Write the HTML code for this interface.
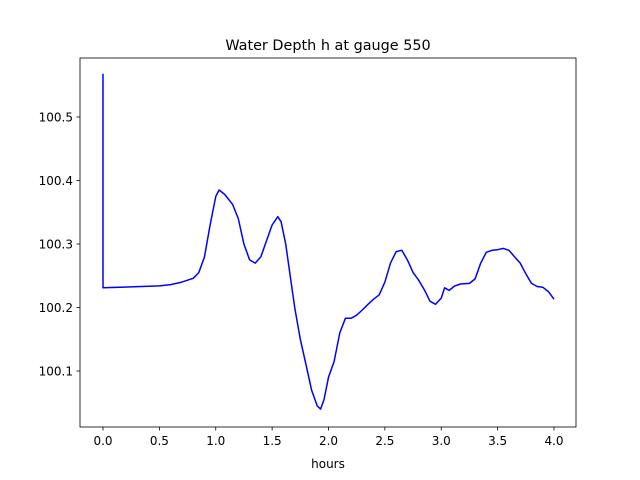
<!DOCTYPE html>
<html><head><meta charset="utf-8"><style>
body{margin:0;background:#fff;}
svg{display:block;font-family:"DejaVu Sans","Liberation Sans",sans-serif;}
</style></head><body>
<svg id="chart" width="640" height="480">
<rect width="640" height="480" fill="#fff"/>
<text x="328" y="50" text-anchor="middle" font-size="14.4">Water Depth h at gauge 550</text>
<g id="plot"></g>
<rect x="80" y="58" width="496" height="369" fill="none" stroke="#000" stroke-width="0.8"/>
<text x="328" y="468" text-anchor="middle" font-size="12">hours</text>
</svg>
<script>
const xs=[0,0,0.5,0.6,0.7,0.8,0.85,0.9,0.95,1.0,1.03,1.08,1.15,1.2,1.25,1.3,1.35,1.4,1.45,1.5,1.55,1.58,1.62,1.66,1.7,1.75,1.8,1.85,1.9,1.93,1.96,2.0,2.05,2.1,2.15,2.2,2.25,2.3,2.35,2.4,2.45,2.5,2.55,2.6,2.65,2.7,2.75,2.8,2.85,2.9,2.95,3.0,3.03,3.07,3.12,3.17,3.25,3.3,3.35,3.4,3.45,3.5,3.55,3.6,3.65,3.7,3.75,3.8,3.85,3.9,3.95,4.0];
const ys=[100.568,100.231,100.234,100.236,100.240,100.246,100.255,100.28,100.33,100.375,100.385,100.378,100.362,100.34,100.30,100.275,100.27,100.28,100.305,100.33,100.343,100.335,100.30,100.25,100.20,100.15,100.11,100.07,100.045,100.04,100.055,100.09,100.115,100.16,100.183,100.183,100.188,100.196,100.205,100.213,100.22,100.24,100.27,100.288,100.29,100.275,100.255,100.243,100.228,100.21,100.205,100.215,100.231,100.227,100.234,100.237,100.238,100.245,100.27,100.287,100.29,100.291,100.293,100.29,100.28,100.27,100.253,100.238,100.233,100.232,100.225,100.213];
const xTicks=[0,0.5,1,1.5,2,2.5,3,3.5,4];
const xTickLabels=["0.0","0.5","1.0","1.5","2.0","2.5","3.0","3.5","4.0"];
const yTicks=[100.1,100.2,100.3,100.4,100.5];
const yTickLabels=["100.1","100.2","100.3","100.4","100.5"];
const X=v=>103+v*112.75;
const Y=v=>117+(100.5-v)*635;
const NS="http://www.w3.org/2000/svg";
const svg=document.getElementById('chart');
function mk(t,a,txt){const e=document.createElementNS(NS,t);for(const k in a)e.setAttribute(k,a[k]);if(txt!==undefined)e.textContent=txt;svg.appendChild(e);return e;}
xTicks.forEach((t,i)=>{
 const l=mk('line',{x1:X(t),x2:X(t),y1:427,y2:430.5,stroke:'#000','stroke-width':0.8});
 
 
 const tx=mk('text',{x:X(t),y:445,'text-anchor':'middle','font-size':12},xTickLabels[i]);
 
 
});
yTicks.forEach((t,i)=>{
 const l=mk('line',{x1:76.5,x2:80,y1:Y(t),y2:Y(t),stroke:'#000','stroke-width':0.8});
 
 
 const tx=mk('text',{x:73,y:Y(t)+4.5,'text-anchor':'end','font-size':12},yTickLabels[i]);
 
 
});
const pts=xs.map((x,i)=>X(x).toFixed(1)+','+Y(ys[i]).toFixed(1)).join(' ');
const pl=mk('polyline',{points:pts,fill:'none',stroke:'#0000ff','stroke-width':1.5,'stroke-linejoin':'round'});


</script>
</body></html>
